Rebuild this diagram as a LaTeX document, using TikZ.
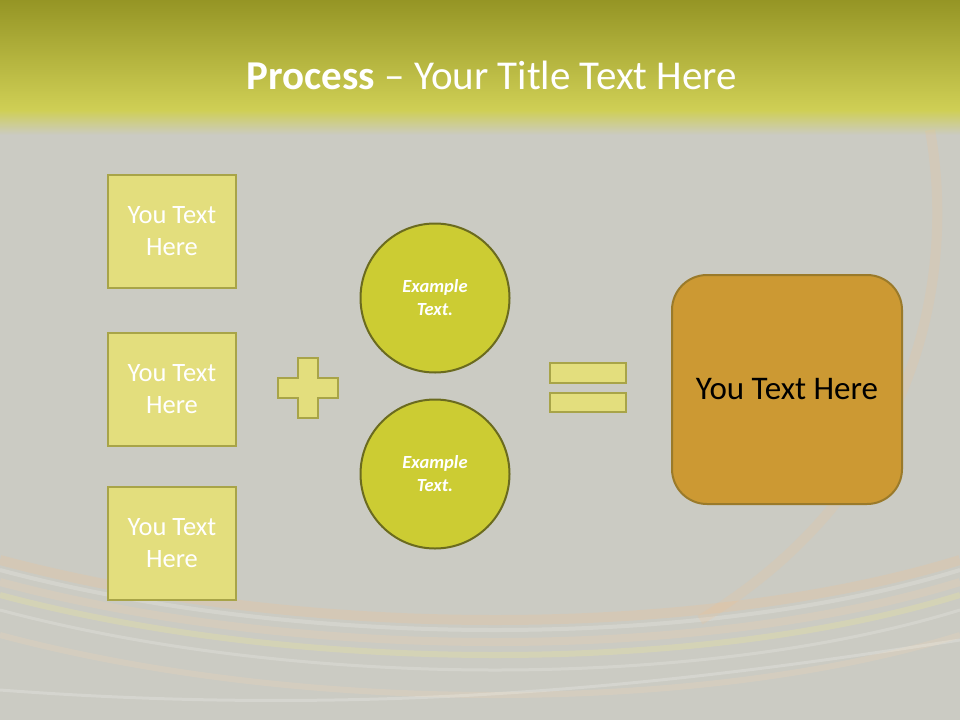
\documentclass[tikz,border=0pt]{standalone}
\usepackage{fontspec}
\setmainfont{Carlito}
\definecolor{bg}{HTML}{CBCBC3}
\definecolor{hdtop}{HTML}{959525}
\definecolor{hdbot}{HTML}{CFCF55}
\definecolor{boxf}{HTML}{E3DE7D}
\definecolor{boxd}{HTML}{A8A448}
\definecolor{circf}{HTML}{CCCC33}
\definecolor{circd}{HTML}{6B6B1F}
\definecolor{resf}{HTML}{CC9933}
\definecolor{resd}{HTML}{9A7A2A}
\begin{document}
\begin{tikzpicture}[x=1pt,y=-1pt,
  sq/.style={draw=boxd,line width=1.5pt,fill=boxf,minimum width=128pt,minimum height=113pt,align=center,text=white,font=\fontsize{26.5}{32}\selectfont,inner sep=0pt},
  circ/.style={circle,draw=circd,line width=2pt,fill=circf,minimum size=149pt,align=center,text=white,font=\fontsize{18.5}{23}\selectfont\bfseries\itshape,inner sep=0pt},
  sym/.style={draw=boxd,line width=1.5pt,fill=boxf}]
\useasboundingbox (0,0) rectangle (960,720);
\fill[bg] (0,0) rectangle (960,720);
\shade[top color=hdtop,bottom color=hdbot] (0,0) rectangle (960,110);
\shade[top color=hdbot,bottom color=bg] (0,110) rectangle (960,135);
% background glow arcs
\foreach \o/\c/\w in {0/orange!50/10,10/white/4,22/orange!35/8,35/yellow!50/6,50/white/3,75/orange!30/6}{
  \draw[\c,opacity=0.18,line width=\w pt] (0,560+\o) .. controls (300,640+\o) and (700,640+\o) .. (960,560+\o);}
\draw[orange!50,opacity=0.15,line width=10pt] (930,130) .. controls (960,300) and (900,500) .. (700,620);
\draw[white,opacity=0.2,line width=3pt] (0,690) .. controls (400,720) and (700,680) .. (960,640);
\node[text=white,font=\fontsize{41}{48}\selectfont] (title) at (492,75) {\textbf{Process} -- Your Title Text Here};
\node[sq] (b1) at (172,231.5) {You Text\\Here};
\node[sq] (b2) at (172,389.5) {You Text\\Here};
\node[sq] (b3) at (172,543.5) {You Text\\Here};
\node[circ] (c1) at (435,298) {Example\\Text.};
\node[circ] (c2) at (435,474) {Example\\Text.};
\draw[sym] (298,358) -- (318,358) -- (318,378) -- (338,378) -- (338,398) -- (318,398) -- (318,418) -- (298,418) -- (298,398) -- (278,398) -- (278,378) -- (298,378) -- cycle;
\draw[sym] (550,363) rectangle (626,383);
\draw[sym] (550,393) rectangle (626,412);
\node[draw=resd,line width=2pt,fill=resf,rounded corners=35pt,minimum width=230pt,minimum height=229pt,font=\fontsize{33}{38}\selectfont] (res) at (787,389.5) {You Text Here};
\end{tikzpicture}
\end{document}
